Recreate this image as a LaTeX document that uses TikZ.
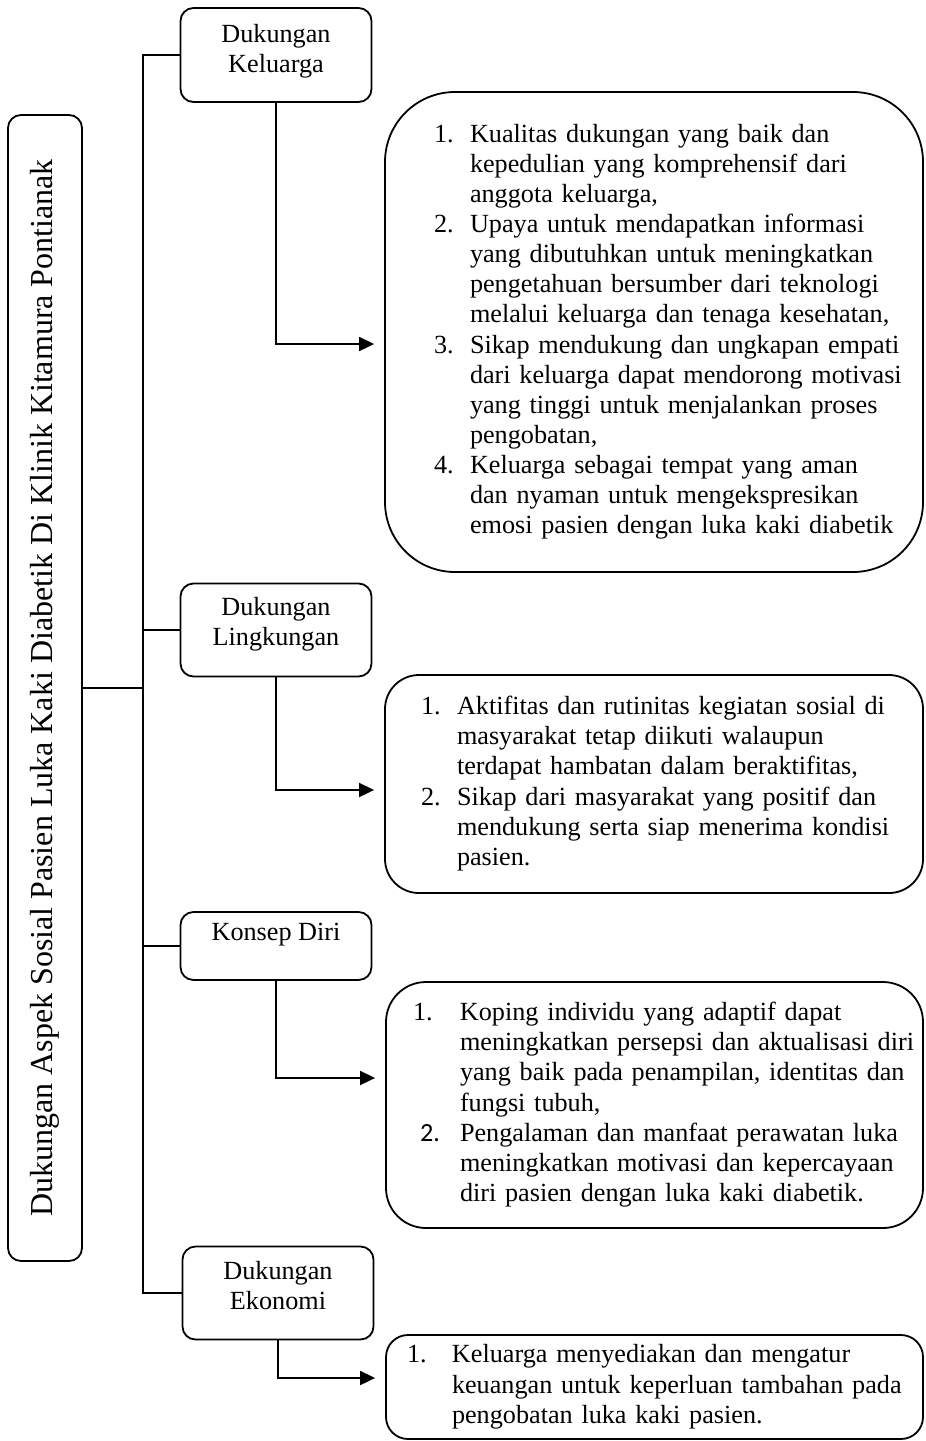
\documentclass[tikz,border=0pt]{standalone}
\usepackage{fontspec}
\setmainfont{Liberation Serif}
\newfontfamily\carlito{Carlito}
\usepackage{tikz}
\usetikzlibrary{arrows.meta}

% extra depth under the last line, lifts the label a little
\newcommand{\dropline}[1]{\rule[-#1]{0pt}{#1}}

\begin{document}
\begin{tikzpicture}[
    x=0.5pt, y=-0.5pt,
    >={Triangle[length=7.5pt,width=7pt]},
    line width=0.9pt,
    every node/.style={font=\fontsize{13.1}{15.05}\selectfont},
    catbox/.style={
        draw,
        rounded corners=6.5pt,
        minimum width=95.5pt,
        minimum height=46.5pt,
        align=center
    },
    listbox/.style={
        draw,
        inner ysep=0pt,
        align=left
    },
    arr/.style={->, shorten >=5pt}
]
\useasboundingbox (0,0) rectangle (926,1441);

% rotated title
\node[draw, rounded corners=6.5pt, rotate=90, minimum width=573pt, minimum height=37pt,
      font=\fontsize{16}{19}\selectfont] (title) at (45,688)
    {Dukungan Aspek Sosial Pasien Luka Kaki Diabetik Di Klinik Kitamura Pontianak};
\coordinate (trunk) at (143,688);

% categories
\node[catbox, minimum height=47pt] (kel) at (276,55) {Dukungan\\Keluarga\dropline{7pt}};
\node[catbox] (ling) at (276,630) {Dukungan\\Lingkungan\dropline{9pt}};
\node[catbox, minimum height=34pt] (konsep) at (276,946) {Konsep Diri\dropline{14pt}};
\node[catbox] (eko) at (278,1293) {Dukungan\\Ekonomi\dropline{8pt}};

% lists
\node[listbox, rounded corners=35pt, text width=220pt, inner xsep=24.5pt, minimum height=240pt]
    (kelList) at (654,332) {\noindent
\begin{tabular}{@{}p{18pt}@{}l@{}}
1. & Kualitas dukungan yang baik dan\\
   & kepedulian yang komprehensif dari\\
   & anggota keluarga,\\
2. & Upaya untuk mendapatkan informasi\\
   & yang dibutuhkan untuk meningkatkan\\
   & pengetahuan bersumber dari teknologi\\
   & melalui keluarga dan tenaga kesehatan,\\
3. & Sikap mendukung dan ungkapan empati\\
   & dari keluarga dapat mendorong motivasi\\
   & yang tinggi untuk menjalankan proses\\
   & pengobatan,\\
4. & Keluarga sebagai tempat yang aman\\
   & dan nyaman untuk mengekspresikan\\
   & emosi pasien dengan luka kaki diabetik
\end{tabular}};

\node[listbox, rounded corners=17pt, text width=233pt, inner xsep=18pt, minimum height=109pt]
    (lingList) at (654,784) {\noindent
\begin{tabular}{@{}p{18pt}@{}l@{}}
1. & Aktifitas dan rutinitas kegiatan sosial di\\
   & masyarakat tetap diikuti walaupun\\
   & terdapat hambatan dalam beraktifitas,\\
2. & Sikap dari masyarakat yang positif dan\\
   & mendukung serta siap menerima kondisi\\
   & pasien.
\end{tabular}};

\node[listbox, rounded corners=20pt, text width=241.5pt, inner xsep=13.5pt, minimum height=123pt]
    (konsepList) at (654.5,1105) {\noindent
\begin{tabular}{@{}p{23.5pt}@{}l@{}}
1. & Koping individu yang adaptif dapat\\
   & meningkatkan persepsi dan aktualisasi diri\\
   & yang baik pada penampilan, identitas dan\\
   & fungsi tubuh,\\
\hspace*{3.5pt}{\carlito 2.} & Pengalaman dan manfaat perawatan luka\\
   & meningkatkan motivasi dan kepercayaan\\
   & diri pasien dengan luka kaki diabetik.
\end{tabular}};

\node[listbox, rounded corners=11pt, text width=247.5pt, inner xsep=10.5pt, minimum height=52pt]
    (ekoList) at (654.5,1387) {\noindent
\begin{tabular}{@{}p{22.5pt}@{}l@{}}
1. & Keluarga menyediakan dan mengatur\\
   & keuangan untuk keperluan tambahan pada\\
   & pengobatan luka kaki pasien.
\end{tabular}};

% tree lines
\draw (title.south) -- (trunk);
\draw (kel.west) -| (trunk) |- (eko.west);
\draw (ling.west) -- (ling.west -| trunk);
\draw (konsep.west) -- (konsep.west -| trunk);

% arrows into the lists
\draw[arr] (kel.south) |- ([yshift=-6pt]kelList.west);
\draw[arr] (ling.south) |- ([yshift=-3pt]lingList.west);
\draw[arr] (konsep.south) |- ([yshift=13.5pt]konsepList.west);
\draw[arr] (eko.south) |- ([yshift=4.5pt]ekoList.west);

\end{tikzpicture}
\end{document}
